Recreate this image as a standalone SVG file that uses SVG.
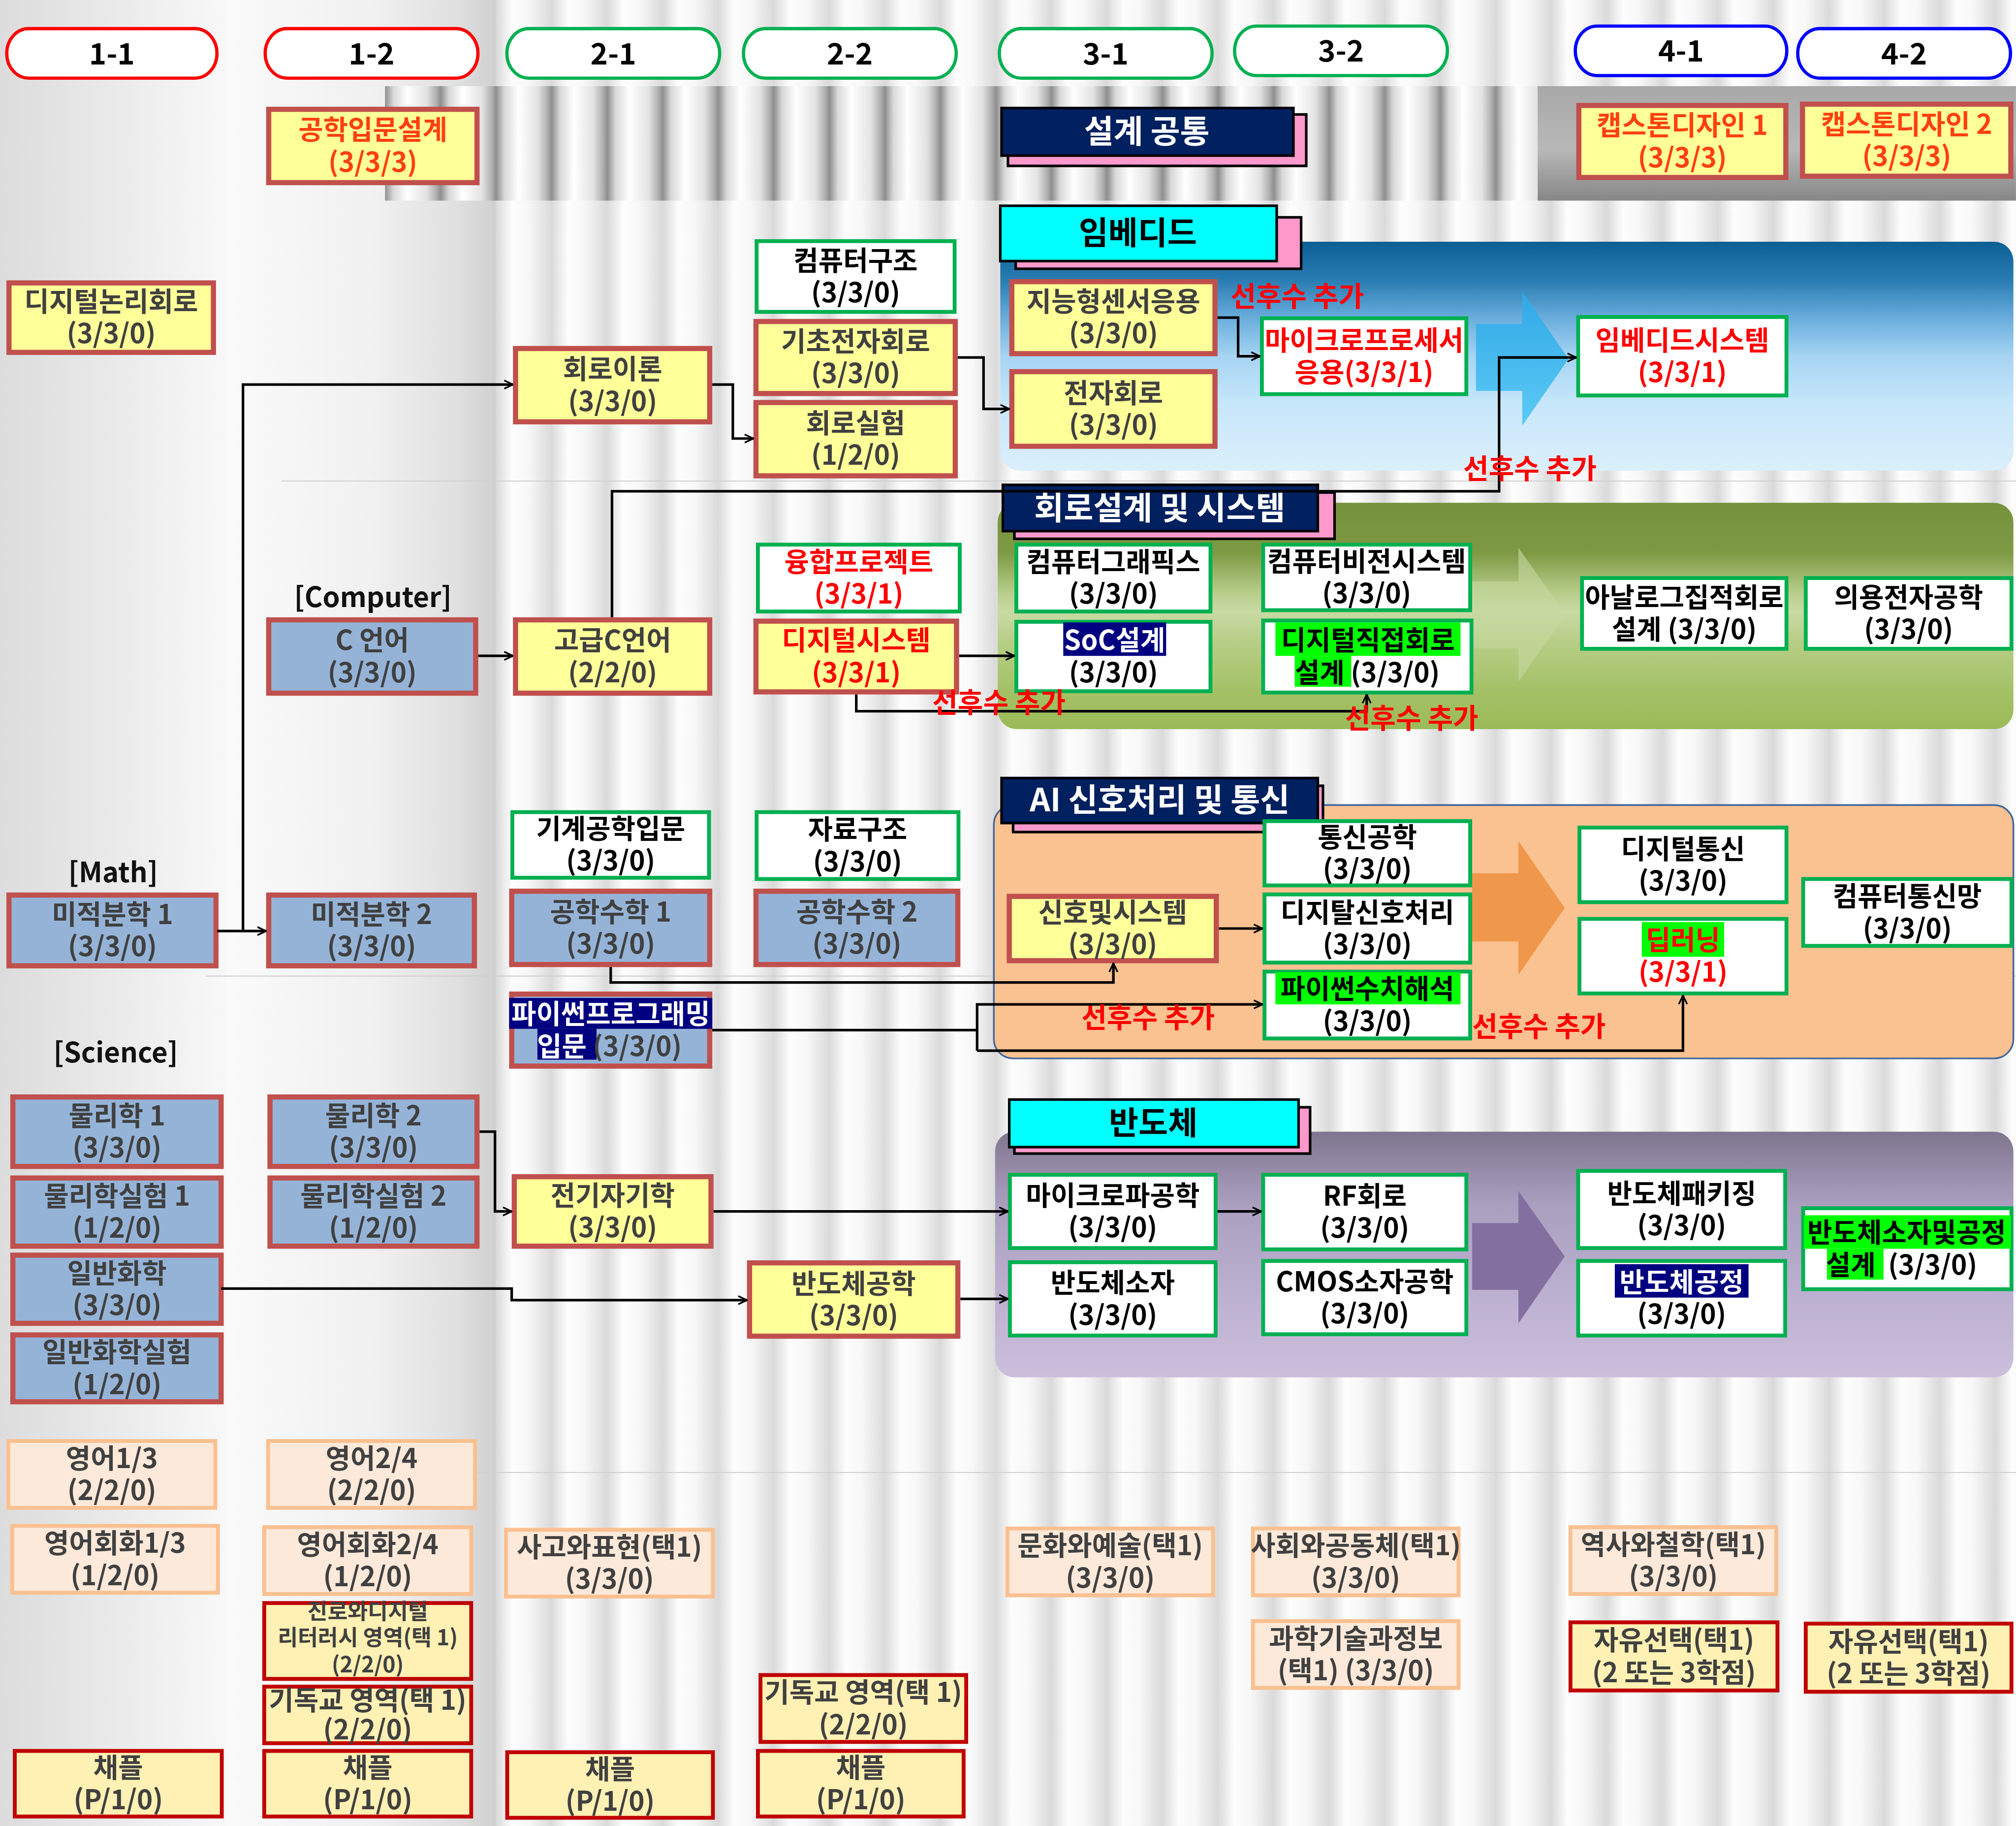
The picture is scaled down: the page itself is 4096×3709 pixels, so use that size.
<svg xmlns="http://www.w3.org/2000/svg" width="4096" height="3709" viewBox="0 0 4096 3709">
<style>
text{font-family:"Noto Sans CJK KR","Noto Sans",sans-serif;font-weight:700}
.y{fill:#ffff99;stroke:#c0504d;stroke-width:4}
.b{fill:#95b3d7;stroke:#c0504d;stroke-width:4}
.g{fill:#ffffff;stroke:#00b050;stroke-width:3}
.p{fill:#fde9d9;stroke:#fac090;stroke-width:3}
.c{fill:#fff0b3;stroke:#c00000;stroke-width:3}
.t{font-size:21px;fill:#404040;text-anchor:middle}
.k{fill:#000000}
.r{fill:#ff0000}
.o{fill:#ff4010}
.w{fill:#ffffff}
.dg{fill:#404040}
.hn{fill:#000080}
.hg{fill:#00ff00}
.lbl{font-size:21.5px;fill:#ff0000;text-anchor:middle}
.cat{font-size:21.5px;fill:#111111;text-anchor:middle}
.pill{fill:#ffffff;stroke-width:2.5}
.pt{font-size:23px;fill:#000000;text-anchor:middle}
.tt{font-size:25px;text-anchor:middle}
.pk{fill:#ff99cc;stroke:#000;stroke-width:2}
.nv{fill:#002060;stroke:#000;stroke-width:2}
.cy{fill:#00ffff;stroke:#000;stroke-width:2}
.conn path{fill:none;stroke:#000;stroke-width:2}
.hl{fill:none;stroke:#d0d0d0;stroke-width:0.8}
</style>
<defs>
<linearGradient id="gCol11" x1="0" y1="0" x2="1" y2="0"><stop offset="0" stop-color="#dcdcdc"/><stop offset="1" stop-color="#f8f8f8"/></linearGradient>
<linearGradient id="gCol12" x1="0" y1="0" x2="1" y2="0"><stop offset="0" stop-color="#fafafa"/><stop offset="0.55" stop-color="#f0f0f0"/><stop offset="0.85" stop-color="#e0e0e0"/><stop offset="1" stop-color="#cfcfcf"/></linearGradient>
<linearGradient id="gStripe" x1="0" y1="0" x2="1" y2="0"><stop offset="0" stop-color="#d9d9d9"/><stop offset="0.3" stop-color="#fdfdfd"/><stop offset="0.6" stop-color="#f7f7f7"/><stop offset="1" stop-color="#dadada"/></linearGradient>
<pattern id="pStripe" patternUnits="userSpaceOnUse" x="385.5" y="0" width="43.2" height="1420"><rect width="43.2" height="1420" fill="url(#gStripe)"/></pattern>
<linearGradient id="gBand" x1="0" y1="0" x2="1" y2="0"><stop offset="0" stop-color="#8e8e8e"/><stop offset="0.15" stop-color="#d8d8d8"/><stop offset="0.4" stop-color="#ffffff"/><stop offset="0.75" stop-color="#e2e2e2"/><stop offset="0.92" stop-color="#b0b0b0"/><stop offset="1" stop-color="#8e8e8e"/></linearGradient>
<pattern id="pBand" patternUnits="userSpaceOnUse" x="299.5" y="0" width="43.2" height="1420"><rect width="43.2" height="1420" fill="url(#gBand)"/></pattern>
<linearGradient id="gBandGray" x1="0" y1="0" x2="0" y2="1"><stop offset="0" stop-color="#a8a8a8"/><stop offset="0.55" stop-color="#b8b8b8"/><stop offset="1" stop-color="#868686"/></linearGradient>
<linearGradient id="gEmb" x1="0" y1="0" x2="0" y2="1"><stop offset="0" stop-color="#0a5f95"/><stop offset="0.17" stop-color="#2a7db3"/><stop offset="0.33" stop-color="#68acdb"/><stop offset="0.5" stop-color="#a6d4f3"/><stop offset="0.7" stop-color="#c6e6fa"/><stop offset="1" stop-color="#dbeffc"/></linearGradient>
<linearGradient id="gCir" x1="0" y1="0" x2="0" y2="1"><stop offset="0" stop-color="#76923c"/><stop offset="0.22" stop-color="#7e9943"/><stop offset="0.4" stop-color="#b8ce8c"/><stop offset="0.48" stop-color="#c8daa4"/><stop offset="0.62" stop-color="#b6cd85"/><stop offset="0.85" stop-color="#a3c064"/><stop offset="1" stop-color="#9bbb59"/></linearGradient>
<linearGradient id="gSemi" x1="0" y1="0" x2="0" y2="1"><stop offset="0" stop-color="#7e758f"/><stop offset="0.15" stop-color="#968ba7"/><stop offset="0.3" stop-color="#aa9fbf"/><stop offset="0.55" stop-color="#b7abcc"/><stop offset="1" stop-color="#ccbfdc"/></linearGradient>
<linearGradient id="gBlueArr" x1="0" y1="0" x2="0" y2="1"><stop offset="0" stop-color="#30a8e6"/><stop offset="1" stop-color="#5ccaf6"/></linearGradient>
<marker id="arr" viewBox="0 0 10 10" refX="9.5" refY="5" markerWidth="8" markerHeight="8" orient="auto" markerUnits="userSpaceOnUse"><path d="M1,1 L9.5,5 L1,9" fill="none" stroke="#000" stroke-width="1.6"/></marker>
</defs>
<g transform="scale(2.6122)">
<g id="background">
<rect x="0" y="0" width="1568" height="1420" fill="#ffffff"/>
<rect x="0" y="0" width="177" height="1420" fill="url(#gCol11)"/>
<rect x="177" y="0" width="209" height="1420" fill="url(#gCol12)"/>
<rect x="385.5" y="0" width="1183" height="1420" fill="url(#pStripe)"/>
<rect x="299.5" y="67" width="897" height="89" fill="url(#pBand)"/>
<rect x="1196" y="67" width="372" height="89" fill="url(#gBandGray)"/>
<path class="hl" d="M219,374 H1568 M160,759 H1568 M371,1145 H1568"/>
</g>
<g id="regions">
<rect id="region-embedded" x="778" y="188" width="788" height="178" rx="15" fill="url(#gEmb)"/>
<rect id="region-circuit" x="776" y="391" width="790" height="176" rx="15" fill="url(#gCir)"/>
<rect id="region-ai" x="773" y="626" width="793" height="197" rx="15" fill="#fac191" stroke="#41669c" stroke-width="1.3"/>
<rect id="region-semi" x="774" y="880" width="792" height="191" rx="15" fill="url(#gSemi)"/>
<polygon points="1148,252 1184,252 1184,227 1220,279 1184,331 1184,304 1148,304" fill="url(#gBlueArr)"/>
<polygon points="1145,452 1181,452 1181,426 1218,478 1181,530 1181,504 1145,504" fill="#c6d9a0" fill-opacity="0.6"/>
<polygon points="1145,679 1181,679 1181,654 1217,706 1181,758 1181,732 1145,732" fill="#ef974b"/>
<polygon points="1145,951 1181,951 1181,926 1217,977 1181,1029 1181,1003 1145,1003" fill="#8370a0"/>
</g>
<g id="headers">
<g id="h-1-1"><rect class="pill" x="5.25" y="22.25" width="163.5" height="38.5" rx="17" ry="20" stroke="#ff0000"/><text class="pt" x="87" y="50">1-1</text></g>
<g id="h-1-2"><rect class="pill" x="206.25" y="22.25" width="165.5" height="38.5" rx="17" ry="20" stroke="#ff0000"/><text class="pt" x="289" y="50">1-2</text></g>
<g id="h-2-1"><rect class="pill" x="394.25" y="22.25" width="165.5" height="38.5" rx="17" ry="20" stroke="#00b050"/><text class="pt" x="477" y="50">2-1</text></g>
<g id="h-2-2"><rect class="pill" x="578.25" y="22.25" width="165.5" height="38.5" rx="17" ry="20" stroke="#00b050"/><text class="pt" x="661" y="50">2-2</text></g>
<g id="h-3-1"><rect class="pill" x="777.25" y="22.25" width="165.5" height="38.5" rx="17" ry="20" stroke="#00b050"/><text class="pt" x="860" y="50">3-1</text></g>
<g id="h-3-2"><rect class="pill" x="960.25" y="20.25" width="165.5" height="38.5" rx="17" ry="20" stroke="#00b050"/><text class="pt" x="1043" y="48">3-2</text></g>
<g id="h-4-1"><rect class="pill" x="1225.25" y="20.25" width="164.5" height="38.5" rx="17" ry="20" stroke="#0000ff"/><text class="pt" x="1307.5" y="48">4-1</text></g>
<g id="h-4-2"><rect class="pill" x="1398.25" y="22.25" width="165.5" height="38.5" rx="17" ry="20" stroke="#0000ff"/><text class="pt" x="1481" y="50">4-2</text></g>
</g>
<g id="titles">
<g id="t-design"><rect class="pk" x="784" y="89" width="232" height="40"/><rect class="nv" x="779" y="84" width="227" height="37"/><text class="tt w" x="892" y="111">설계 공통</text></g>
<g id="t-embedded"><rect class="pk" x="790" y="169" width="222" height="40"/><rect class="cy" x="778" y="160" width="215" height="43"/><text class="tt k" x="885" y="190">임베디드</text></g>
<g id="t-circuit"><rect class="pk" x="789" y="383" width="249" height="36"/><rect class="nv" x="780" y="377" width="245" height="36"/><text class="tt w" x="902" y="404">회로설계 및 시스템</text></g>
<g id="t-ai"><rect class="pk" x="788" y="611" width="241" height="36"/><rect class="nv" x="779" y="605" width="246" height="35"/><text class="tt w" x="902" y="631">AI 신호처리 및 통신</text></g>
<g id="t-semi"><rect class="pk" x="789" y="861" width="230" height="36"/><rect class="cy" x="785" y="855" width="225" height="37"/><text class="tt k" x="897" y="882">반도체</text></g>
</g>
<g id="categories">
<text class="cat" x="290" y="472">[Computer]</text>
<text class="cat" x="88" y="686">[Math]</text>
<text class="cat" x="90" y="826">[Science]</text>
</g>
<g id="nodes">
<g id="n1"><rect class="y" x="7" y="220" width="159" height="54"/><text class="t" x="86.5" y="242">디지털논리회로<tspan x="86.5" y="267">(3/3/0)</tspan></text></g>
<g id="n2"><rect class="y" x="209" y="85" width="162" height="57"/><text class="t o" x="290" y="108.5">공학입문설계<tspan x="290" y="133.5">(3/3/3)</tspan></text></g>
<g id="n3"><rect class="y" x="401" y="271" width="151" height="57"/><text class="t" x="476.5" y="294.5">회로이론<tspan x="476.5" y="319.5">(3/3/0)</tspan></text></g>
<g id="n4"><rect class="y" x="401" y="482" width="151" height="57"/><text class="t" x="476.5" y="505.5">고급C언어<tspan x="476.5" y="530.5">(2/2/0)</tspan></text></g>
<g id="n5"><rect class="b" x="209" y="482" width="161" height="57"/><text class="t" x="289.5" y="505.5">C 언어<tspan x="289.5" y="530.5">(3/3/0)</tspan></text></g>
<g id="n6"><rect class="b" x="7" y="696" width="161" height="55"/><text class="t" x="87.5" y="718.5">미적분학 1<tspan x="87.5" y="743.5">(3/3/0)</tspan></text></g>
<g id="n7"><rect class="b" x="209" y="696" width="160" height="55"/><text class="t" x="289" y="718.5">미적분학 2<tspan x="289" y="743.5">(3/3/0)</tspan></text></g>
<g id="n8"><rect class="g" x="398.5" y="631.5" width="153" height="51"/><text class="t k" x="475" y="652">기계공학입문<tspan x="475" y="677">(3/3/0)</tspan></text></g>
<g id="n9"><rect class="b" x="398" y="693" width="154" height="57"/><text class="t" x="475" y="716.5">공학수학 1<tspan x="475" y="741.5">(3/3/0)</tspan></text></g>
<g id="n10"><rect class="b" x="398" y="773" width="154" height="56"/><rect class="hn" x="396" y="776" width="158" height="24"/><rect class="hn" x="418" y="800" width="46" height="24"/><text class="t w" x="475" y="796">파이썬프로그래밍<tspan x="474" y="821">입문</tspan><tspan class="dg"> (3/3/0)</tspan></text></g>
<g id="n11"><rect class="b" x="10" y="853" width="162" height="54"/><text class="t" x="91" y="875">물리학 1<tspan x="91" y="900">(3/3/0)</tspan></text></g>
<g id="n12"><rect class="b" x="10" y="916" width="162" height="53"/><text class="t" x="91" y="937.5">물리학실험 1<tspan x="91" y="962.5">(1/2/0)</tspan></text></g>
<g id="n13"><rect class="b" x="10" y="976" width="162" height="53"/><text class="t" x="91" y="997.5">일반화학<tspan x="91" y="1022.5">(3/3/0)</tspan></text></g>
<g id="n14"><rect class="b" x="10" y="1038" width="162" height="52"/><text class="t" x="91" y="1059">일반화학실험<tspan x="91" y="1084">(1/2/0)</tspan></text></g>
<g id="n15"><rect class="b" x="210" y="853" width="161" height="54"/><text class="t" x="290.5" y="875">물리학 2<tspan x="290.5" y="900">(3/3/0)</tspan></text></g>
<g id="n16"><rect class="b" x="210" y="916" width="161" height="53"/><text class="t" x="290.5" y="937.5">물리학실험 2<tspan x="290.5" y="962.5">(1/2/0)</tspan></text></g>
<g id="n17"><rect class="y" x="400" y="915" width="153" height="54"/><text class="t" x="476.5" y="937">전기자기학<tspan x="476.5" y="962">(3/3/0)</tspan></text></g>
<g id="n18"><rect class="g" x="588.5" y="187.5" width="154" height="55"/><text class="t k" x="665.5" y="210">컴퓨터구조<tspan x="665.5" y="235">(3/3/0)</tspan></text></g>
<g id="n19"><rect class="y" x="588" y="250" width="155" height="56"/><text class="t" x="665.5" y="273">기초전자회로<tspan x="665.5" y="298">(3/3/0)</tspan></text></g>
<g id="n20"><rect class="y" x="588" y="313" width="155" height="57"/><text class="t" x="665.5" y="336.5">회로실험<tspan x="665.5" y="361.5">(1/2/0)</tspan></text></g>
<g id="n21"><rect class="g" x="589.5" y="423.5" width="157" height="52"/><text class="t r" x="668" y="444.5">융합프로젝트<tspan x="668" y="469.5">(3/3/1)</tspan></text></g>
<g id="n22"><rect class="y" x="588" y="483" width="156" height="55"/><text class="t r" x="666" y="505.5">디지털시스템<tspan x="666" y="530.5">(3/3/1)</tspan></text></g>
<g id="n23"><rect class="g" x="588.5" y="631.5" width="157" height="52"/><text class="t k" x="667" y="652.5">자료구조<tspan x="667" y="677.5">(3/3/0)</tspan></text></g>
<g id="n24"><rect class="b" x="588" y="693" width="157" height="57"/><text class="t" x="666.5" y="716.5">공학수학 2<tspan x="666.5" y="741.5">(3/3/0)</tspan></text></g>
<g id="n25"><rect class="y" x="583" y="982" width="162" height="57"/><text class="t" x="664" y="1005.5">반도체공학<tspan x="664" y="1030.5">(3/3/0)</tspan></text></g>
<g id="n26"><rect class="y" x="787" y="219" width="158" height="56"/><text class="t" x="866" y="242">지능형센서응용<tspan x="866" y="267">(3/3/0)</tspan></text></g>
<g id="n27"><rect class="y" x="787" y="289" width="158" height="58"/><text class="t" x="866" y="313">전자회로<tspan x="866" y="338">(3/3/0)</tspan></text></g>
<g id="n28"><rect class="g" x="981.5" y="247.5" width="159" height="59"/><text class="t r" x="1061" y="272">마이크로프로세서<tspan x="1061" y="297">응용(3/3/1)</tspan></text></g>
<g id="n29"><rect class="g" x="1227.5" y="246.5" width="162" height="61"/><text class="t r" x="1308.5" y="272">임베디드시스템<tspan x="1308.5" y="297">(3/3/1)</tspan></text></g>
<g id="n30"><rect class="g" x="790.5" y="423.5" width="151" height="52"/><text class="t k" x="866" y="444.5">컴퓨터그래픽스<tspan x="866" y="469.5">(3/3/0)</tspan></text></g>
<g id="n31"><rect class="g" x="982.5" y="423.5" width="161" height="51"/><text class="t k" x="1063" y="444">컴퓨터비전시스템<tspan x="1063" y="469">(3/3/0)</tspan></text></g>
<g id="n32"><rect class="g" x="790.5" y="483.5" width="151" height="54"/><rect class="hn" x="827" y="484" width="80" height="26"/><text class="t w" x="867" y="505.5">SoC설계<tspan class="k" x="866" y="530.5">(3/3/0)</tspan></text></g>
<g id="n33"><rect class="g" x="982.5" y="482.5" width="162" height="56"/><rect class="hg" x="992" y="484" width="144" height="26"/><rect class="hg" x="1007" y="510" width="44" height="24"/><text class="t k" x="1064" y="505.5">디지털직접회로<tspan x="1063.5" y="530.5">설계 (3/3/0)</tspan></text></g>
<g id="n34"><rect class="g" x="1230.5" y="449.5" width="159" height="55"/><text class="t k" x="1310" y="472">아날로그집적회로<tspan x="1310" y="497">설계 (3/3/0)</tspan></text></g>
<g id="n35"><rect class="g" x="1404.5" y="449.5" width="160" height="55"/><text class="t k" x="1484.5" y="472">의용전자공학<tspan x="1484.5" y="497">(3/3/0)</tspan></text></g>
<g id="n36"><rect class="g" x="983.5" y="638.5" width="160" height="50"/><text class="t k" x="1063.5" y="658.5">통신공학<tspan x="1063.5" y="683.5">(3/3/0)</tspan></text></g>
<g id="n37"><rect class="g" x="983.5" y="695.5" width="160" height="53"/><text class="t k" x="1063.5" y="717">디지탈신호처리<tspan x="1063.5" y="742">(3/3/0)</tspan></text></g>
<g id="n38"><rect class="g" x="983.5" y="755.5" width="160" height="52"/><rect class="hg" x="992" y="756" width="144" height="25"/><text class="t k" x="1063.5" y="776.5">파이썬수치해석<tspan x="1063.5" y="801.5">(3/3/0)</tspan></text></g>
<g id="n39"><rect class="y" x="785" y="697" width="161" height="50"/><text class="t" x="865.5" y="717">신호및시스템<tspan x="865.5" y="742">(3/3/0)</tspan></text></g>
<g id="n40"><rect class="g" x="1228.5" y="643.5" width="161" height="58"/><text class="t k" x="1309" y="667.5">디지털통신<tspan x="1309" y="692.5">(3/3/0)</tspan></text></g>
<g id="n41"><rect class="g" x="1228.5" y="714.5" width="161" height="58"/><rect class="hg" x="1277" y="717" width="64" height="27"/><text class="t r" x="1309" y="738.5">딥러닝<tspan x="1309" y="763.5">(3/3/1)</tspan></text></g>
<g id="n42"><rect class="g" x="1402.5" y="683.5" width="162" height="52"/><text class="t k" x="1483.5" y="704.5">컴퓨터통신망<tspan x="1483.5" y="729.5">(3/3/0)</tspan></text></g>
<g id="n43"><rect class="g" x="785.5" y="913.5" width="160" height="57"/><text class="t k" x="865.5" y="937">마이크로파공학<tspan x="865.5" y="962">(3/3/0)</tspan></text></g>
<g id="n44"><rect class="g" x="982.5" y="913.5" width="158" height="58"/><text class="t k" x="1061.5" y="937.5">RF회로<tspan x="1061.5" y="962.5">(3/3/0)</tspan></text></g>
<g id="n45"><rect class="g" x="785.5" y="981.5" width="160" height="57"/><text class="t k" x="865.5" y="1005">반도체소자<tspan x="865.5" y="1030">(3/3/0)</tspan></text></g>
<g id="n46"><rect class="g" x="982.5" y="980.5" width="158" height="57"/><text class="t k" x="1061.5" y="1004">CMOS소자공학<tspan x="1061.5" y="1029">(3/3/0)</tspan></text></g>
<g id="n47"><rect class="g" x="1227.5" y="910.5" width="161" height="60"/><text class="t k" x="1308" y="935.5">반도체패키징<tspan x="1308" y="960.5">(3/3/0)</tspan></text></g>
<g id="n48"><rect class="g" x="1227.5" y="980.5" width="161" height="58"/><rect class="hn" x="1256" y="983" width="104" height="26"/><text class="t w" x="1308" y="1004.5">반도체공정<tspan class="k" x="1308" y="1029.5">(3/3/0)</tspan></text></g>
<g id="n49"><rect class="g" x="1402.5" y="939.5" width="162" height="63"/><rect class="hg" x="1403" y="945" width="161" height="26"/><rect class="hg" x="1421" y="971" width="44" height="24"/><text class="t k" x="1483" y="966">반도체소자및공정<tspan x="1479" y="991">설계</tspan><tspan dx="5"> (3/3/0)</tspan></text></g>
<g id="n50"><rect class="y" x="1228" y="82" width="161" height="56"/><text class="t o" x="1308.5" y="105">캡스톤디자인 1<tspan x="1308.5" y="130">(3/3/3)</tspan></text></g>
<g id="n51"><rect class="y" x="1402" y="81" width="162" height="56"/><text class="t o" x="1483" y="104">캡스톤디자인 2<tspan x="1483" y="129">(3/3/3)</tspan></text></g>
<g id="n52"><rect class="p" x="6.5" y="1120.5" width="161" height="52"/><text class="t" x="87" y="1141.5">영어1/3<tspan x="87" y="1166.5">(2/2/0)</tspan></text></g>
<g id="n53"><rect class="p" x="9.5" y="1186.5" width="160" height="52"/><text class="t" x="89.5" y="1207.5">영어회화1/3<tspan x="89.5" y="1232.5">(1/2/0)</tspan></text></g>
<g id="n54"><rect class="c" x="11.5" y="1361.5" width="161" height="51"/><text class="t" x="92" y="1382">채플<tspan x="92" y="1407">(P/1/0)</tspan></text></g>
<g id="n55"><rect class="p" x="208.5" y="1120.5" width="161" height="52"/><text class="t" x="289" y="1141.5">영어2/4<tspan x="289" y="1166.5">(2/2/0)</tspan></text></g>
<g id="n56"><rect class="p" x="205.5" y="1187.5" width="161" height="52"/><text class="t" x="286" y="1208.5">영어회화2/4<tspan x="286" y="1233.5">(1/2/0)</tspan></text></g>
<g id="n57"><rect class="c" x="205.5" y="1246.5" width="161" height="59"/><text class="t" x="286" y="1259" style="font-size:17px">진로와디지털<tspan x="286" y="1279.5">리터러시 영역(택 1)</tspan><tspan x="286" y="1300.5">(2/2/0)</tspan></text></g>
<g id="n58"><rect class="c" x="205.5" y="1311.5" width="161" height="44"/><text class="t" x="286" y="1329.5">기독교 영역(택 1)<tspan x="286" y="1352.5">(2/2/0)</tspan></text></g>
<g id="n59"><rect class="c" x="205.5" y="1361.5" width="161" height="51"/><text class="t" x="286" y="1382">채플<tspan x="286" y="1407">(P/1/0)</tspan></text></g>
<g id="n60"><rect class="p" x="393.5" y="1189.5" width="161" height="52"/><text class="t" x="474" y="1210.5">사고와표현(택1)<tspan x="474" y="1235.5">(3/3/0)</tspan></text></g>
<g id="n61"><rect class="c" x="394.5" y="1362.5" width="160" height="51"/><text class="t" x="474.5" y="1383">채플<tspan x="474.5" y="1408">(P/1/0)</tspan></text></g>
<g id="n62"><rect class="c" x="591.5" y="1302.5" width="160" height="52"/><text class="t" x="671.5" y="1323.5">기독교 영역(택 1)<tspan x="671.5" y="1348.5">(2/2/0)</tspan></text></g>
<g id="n63"><rect class="c" x="589.5" y="1361.5" width="160" height="51"/><text class="t" x="669.5" y="1382">채플<tspan x="669.5" y="1407">(P/1/0)</tspan></text></g>
<g id="n64"><rect class="p" x="783.5" y="1188.5" width="160" height="52"/><text class="t" x="863.5" y="1209.5">문화와예술(택1)<tspan x="863.5" y="1234.5">(3/3/0)</tspan></text></g>
<g id="n65"><rect class="p" x="974.5" y="1188.5" width="160" height="52"/><text class="t" x="1054.5" y="1209.5">사회와공동체(택1)<tspan x="1054.5" y="1234.5">(3/3/0)</tspan></text></g>
<g id="n66"><rect class="p" x="974.5" y="1260.5" width="160" height="52"/><text class="t" x="1054.5" y="1281.5">과학기술과정보<tspan x="1054.5" y="1306.5">(택1) (3/3/0)</tspan></text></g>
<g id="n67"><rect class="p" x="1221.5" y="1187.5" width="160" height="52"/><text class="t" x="1301.5" y="1208.5">역사와철학(택1)<tspan x="1301.5" y="1233.5">(3/3/0)</tspan></text></g>
<g id="n68"><rect class="c" x="1221.5" y="1261.5" width="161" height="53"/><text class="t" x="1302" y="1283">자유선택(택1)<tspan x="1302" y="1308">(2 또는 3학점)</tspan></text></g>
<g id="n69"><rect class="c" x="1404.5" y="1262.5" width="160" height="53"/><text class="t" x="1484.5" y="1284">자유선택(택1)<tspan x="1484.5" y="1309">(2 또는 3학점)</tspan></text></g>
</g>
<g id="connectors" class="conn">
<path d="M169,724 H207" marker-end="url(#arr)"/>
<path d="M189,724 V299 H399" marker-end="url(#arr)"/>
<path d="M554,299 H570 V341 H586" marker-end="url(#arr)"/>
<path d="M372,510 H399" marker-end="url(#arr)"/>
<path d="M745,278 H765 V318 H785" marker-end="url(#arr)"/>
<path d="M947,247 H963 V277 H980" marker-end="url(#arr)"/>
<path d="M476,480 V382 H1166 V278 H1226" marker-end="url(#arr)"/>
<path d="M746,510 H789" marker-end="url(#arr)"/>
<path d="M666,540 V553 H1063 V540" marker-end="url(#arr)"/>
<path d="M948,722 H982" marker-end="url(#arr)"/>
<path d="M475,752 V764 H866 V749" marker-end="url(#arr)"/>
<path d="M554,801 H760 V817"/>
<path d="M760,801 V781 H982" marker-end="url(#arr)"/>
<path d="M760,817 H1309 V774" marker-end="url(#arr)"/>
<path d="M555,942 H784" marker-end="url(#arr)"/>
<path d="M947,942 H981" marker-end="url(#arr)"/>
<path d="M747,1010 H784" marker-end="url(#arr)"/>
<path d="M172,1002 H398 V1011 H581" marker-end="url(#arr)"/>
<path d="M373,880 H385 V942 H398" marker-end="url(#arr)"/>
</g>
<g id="labels">
<text class="lbl" x="1009" y="238">선후수 추가</text>
<text class="lbl" x="1190" y="372">선후수 추가</text>
<text class="lbl" x="777" y="554">선후수 추가</text>
<text class="lbl" x="1098" y="566">선후수 추가</text>
<text class="lbl" x="893" y="799">선후수 추가</text>
<text class="lbl" x="1197" y="806">선후수 추가</text>
</g>
</g>
</svg>
